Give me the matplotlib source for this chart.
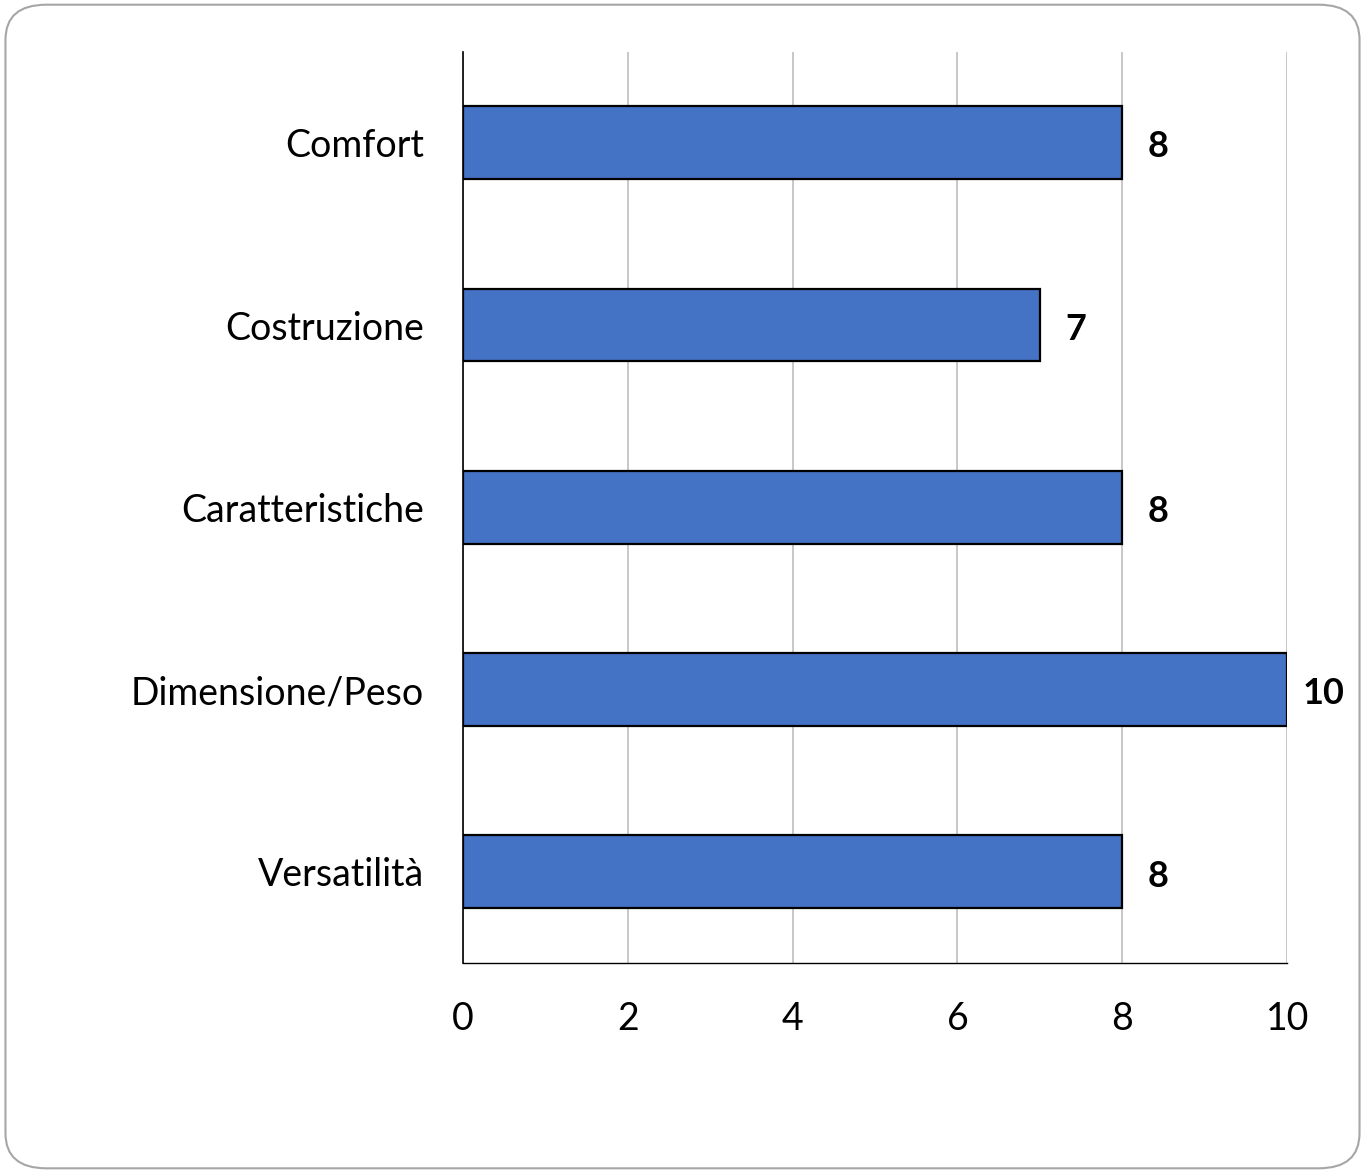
import matplotlib.pyplot as plt
from matplotlib.patches import FancyBboxPatch

# Dati
categorie = ["Comfort", "Costruzione", "Caratteristiche", "Dimensione/Peso", "Versatilità"]
punteggi = [8, 7, 8, 10, 8]
xticks = [0, 2, 4, 6, 8, 10]

plt.rcParams['font.family'] = ['Lato', 'DejaVu Sans']

fig = plt.figure(figsize=(13.65, 11.73), dpi=100)
ax = fig.add_axes([0.339, 0.179, 0.604, 0.777])

# Bordo arrotondato
bordo = FancyBboxPatch((0.004, 0.004), 0.992, 0.992,
                       boxstyle="round,pad=0,rounding_size=0.03",
                       transform=fig.transFigure, facecolor="white",
                       edgecolor="#a6a6a6", linewidth=1.5, zorder=-10)
fig.patches.append(bordo)

pos = list(range(len(categorie)))
ax.barh(pos, punteggi, height=0.4, color="#4472C4",
        edgecolor="black", linewidth=1.6, zorder=3)

# Etichette dei valori
for y, v in zip(pos, punteggi):
    ax.annotate(str(v), (v, y), textcoords="offset points", xytext=(26, -3),
                va="center", ha="center", fontsize=26, fontweight="bold")

ax.set_ylim(4.5, -0.5)
ax.set_xlim(0, 10)
ax.set_yticks(pos)
ax.set_yticklabels(categorie, fontsize=27)
ax.set_xticks(xticks)
ax.set_xticklabels([str(t) for t in xticks], fontsize=27)
ax.tick_params(length=0, pad=28)
ax.tick_params(axis="x", pad=27)

ax.grid(axis="x", color="#bfbfbf", linewidth=1.2, zorder=0)
for s in ["top", "right"]:
    ax.spines[s].set_visible(False)
ax.spines["left"].set_color("black")
ax.spines["left"].set_linewidth(1.2)
ax.spines["bottom"].set_color("black")
ax.spines["bottom"].set_linewidth(1.0)
ax.set_axisbelow(True)

fig.savefig("out.png", dpi=100)
